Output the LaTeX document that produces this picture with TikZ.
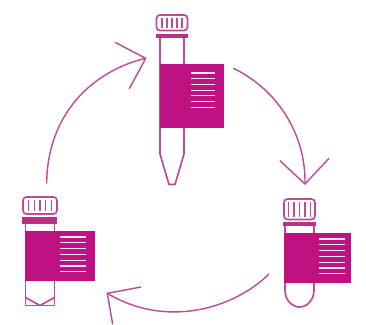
\documentclass[tikz,border=0pt]{standalone}
\definecolor{tubeline}{HTML}{BE4A94}
\definecolor{tubefill}{HTML}{BF1282}
\definecolor{tubeband}{HTML}{B73285}
\tikzset{
  tubeedge/.style={draw=tubeline, line width=0.95pt, line join=round},
  capstroke/.style={draw=tubeline, line width=0.9pt},
  capband/.style={fill=tubeband},
  tag/.style={fill=tubefill},
  tagline/.style={draw=white!92!tubefill, line width=0.65pt},
  cycle/.style={draw=tubeline, line width=0.8pt, line join=miter}
}
\begin{document}
\begin{tikzpicture}[x=0.02cm,y=-0.02cm]
  \useasboundingbox (0,0) rectangle (366,325);

  % Tube du haut
  \draw[tubeedge] (160,38) -- (160,154) -- (169,184.5) -- (175,184.5) -- (184,154) -- (184,38);
  \draw[tubeedge, rounded corners=2pt] (156.5,30.5) rectangle (187.5,15);
  \fill[capband] (156,33.5) rectangle (188,38);
  \foreach \x in {162,167,172,177,182}
    \draw[capstroke] (\x,18) -- (\x,27.5);
  \fill[tag] (160,63.5) rectangle (224,128);
  \foreach \y in {73,78.7,84.4,90.1,95.8,101.5,107.2}
    \draw[tagline] (191.5,\y) -- (215.5,\y);

  % Tube de gauche
  \draw[tubeedge] (25.5,223) -- (25.5,305.5) -- (54.5,305.5) -- (54.5,223);
  \draw[tubeedge] (25.5,297.5) -- (40,305.5) -- (54.5,297.5);
  \draw[tubeedge, rounded corners=2pt] (23,214) rectangle (57,197);
  \fill[capband] (22.5,216.5) rectangle (57.5,223.5);
  \foreach \x in {28.5,34.5,40,45.5,51.5}
    \draw[capstroke] (\x,200) -- (\x,211);
  \fill[tag] (25,231) rectangle (95,281);
  \foreach \y in {237,242.8,248.6,254.4,260.2,266,271.8}
    \draw[tagline] (60,\y) -- (86,\y);

  % Tube de droite
  \draw[tubeedge] (285,226) -- (285,290) .. controls (285,300) and (292,307) .. (299.5,307) .. controls (307,307) and (314,300) .. (314,290) -- (314,226);
  \draw[tubeedge, rounded corners=2pt] (284,219.5) rectangle (315,199);
  \fill[capband] (283,221.5) rectangle (316,226);
  \foreach \x in {288.5,294,299.5,305,310.5}
    \draw[capstroke] (\x,202) -- (\x,216.5);
  \fill[tag] (284.5,233) rectangle (351.5,283);
  \foreach \y in {239,244.8,250.6,256.4,262.2,268,273.8}
    \draw[tagline] (319,\y) -- (345,\y);

  % Points du cycle
  \coordinate (leftstart) at (46.7,183.5);
  \coordinate (toptip) at (145.7,58.3);
  \coordinate (topwinga) at (115,42.3);
  \coordinate (topwingb) at (129.3,88.7);
  \coordinate (topstart) at (233.3,68.3);
  \coordinate (righttip) at (305,184);
  \coordinate (rightwinga) at (280,160.7);
  \coordinate (rightwingb) at (329,158.3);
  \coordinate (rightstart) at (269,274);
  \coordinate (lefttip) at (107.3,293.3);
  \coordinate (leftwinga) at (141,287);
  \coordinate (leftwingb) at (112.7,324.3);

  % Fleches
  \draw[cycle] (leftstart) .. controls (47,115) and (92,71) .. (toptip);
  \draw[cycle] (topwinga) -- (toptip) -- (topwingb);
  \draw[cycle] (topstart) .. controls (275,88) and (306,132) .. (righttip);
  \draw[cycle] (rightwinga) -- (righttip) -- (rightwingb);
  \draw[cycle] (rightstart) .. controls (232,310) and (165,328) .. (lefttip);
  \draw[cycle] (leftwinga) -- (lefttip) -- (leftwingb);

\end{tikzpicture}
\end{document}
